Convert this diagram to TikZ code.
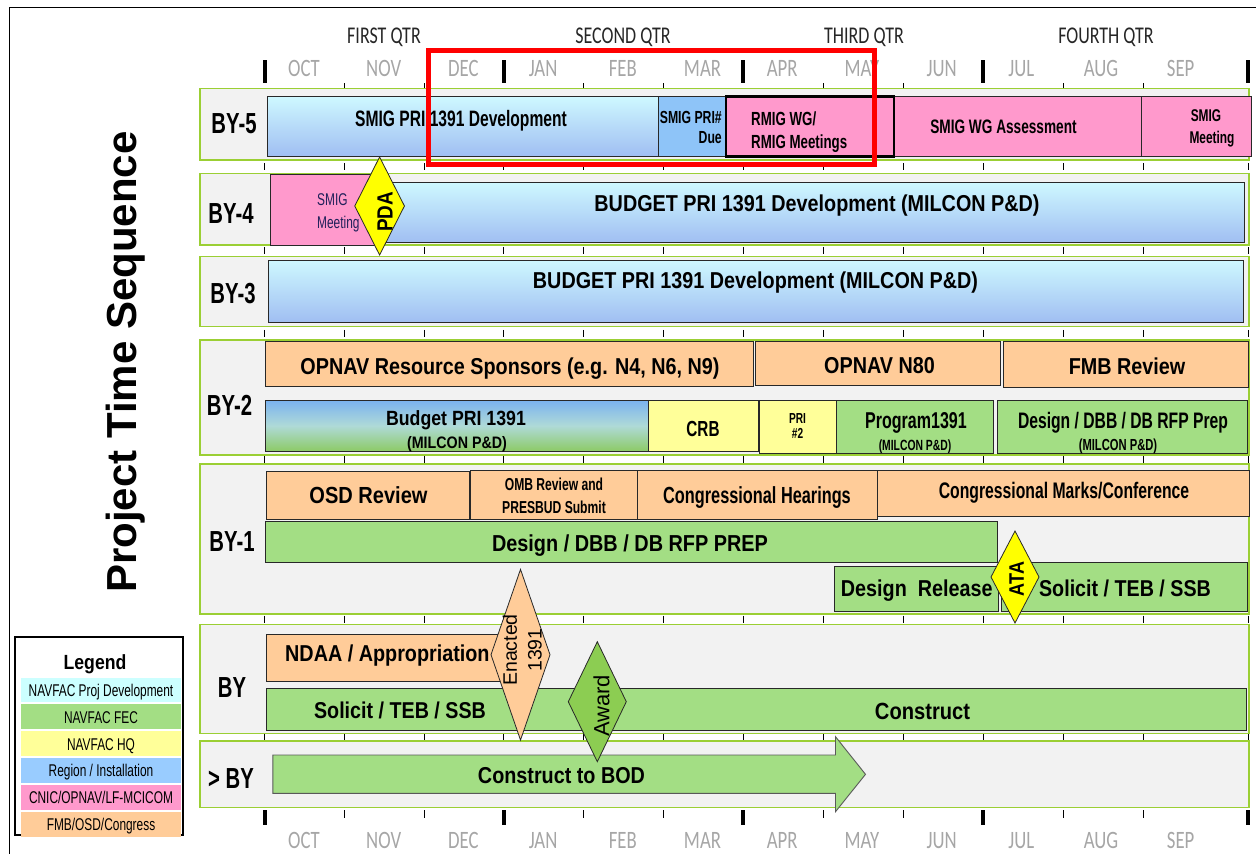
\documentclass[tikz,border=0pt]{standalone}
\usepackage{fontspec}
\setmainfont{Liberation Sans}
\newfontfamily\narA[FakeStretch=0.86]{Liberation Sans}
\newfontfamily\narN[FakeStretch=0.70]{Liberation Sans}
\newfontfamily\calN[FakeStretch=0.75]{Carlito}
\usetikzlibrary{shapes.geometric}

\definecolor{panelfill}{RGB}{242,242,242}
\definecolor{panelline}{RGB}{155,207,52}
\definecolor{cyantop}{RGB}{206,248,255}
\definecolor{bluebot}{RGB}{160,190,242}
\definecolor{regionblue}{RGB}{142,196,248}
\definecolor{pinkc}{RGB}{255,153,204}
\definecolor{orangec}{RGB}{255,204,153}
\definecolor{greenc}{RGB}{163,222,132}
\definecolor{awardgreen}{RGB}{140,205,82}
\definecolor{yellowc}{RGB}{255,255,153}
\definecolor{mileyellow}{RGB}{255,255,0}
\definecolor{legcyan}{RGB}{204,255,255}
\definecolor{legblue}{RGB}{153,204,255}
\definecolor{monthgray}{RGB}{166,166,166}
\definecolor{navytext}{RGB}{32,32,90}
\definecolor{edge}{RGB}{40,40,40}
\definecolor{mixtop}{RGB}{122,178,240}
\definecolor{mixmid}{RGB}{175,218,215}
\definecolor{mixbot}{RGB}{140,202,100}

% box from (x1,y1) to (x2,y2), y measured downwards
\newcommand\boxat[6]{\node[#1, anchor=north west, inner sep=0pt, outer sep=0pt,
  minimum width={#4-#2}, minimum height={#5-#3}] (#6) at (#2,#3) {};}

\begin{document}
\begin{tikzpicture}[x=1pt, y=-1pt,
  panel/.style={draw=panelline, fill=panelfill, line width=1.5pt},
  bar/.style={draw=edge, line width=0.9pt},
  devbar/.style={bar, top color=cyantop, bottom color=bluebot},
  mixbar/.style={bar, top color=mixtop, bottom color=mixbot, middle color=mixmid},
  regbar/.style={bar, fill=regionblue},
  pinkbar/.style={bar, fill=pinkc},
  orbar/.style={bar, fill=orangec},
  grbar/.style={bar, fill=greenc},
  yebar/.style={bar, fill=yellowc},
  milestone/.style={diamond, draw=edge, line width=0.8pt, inner sep=0pt, outer sep=0pt},
  qtr/.style={font=\calN\fontsize{24}{24}\selectfont, text=black!85, inner sep=0pt, anchor=base},
  month/.style={font=\calN\fontsize{25}{25}\selectfont, text=monthgray, inner sep=0pt, anchor=base},
  rowlbl/.style={font=\narN\bfseries\fontsize{29}{29}\selectfont, inner sep=0pt, anchor=base},
  tA/.style={font=\narA\bfseries\fontsize{#1}{#1}\selectfont, inner sep=0pt, anchor=base},
  tN/.style={font=\narN\bfseries\fontsize{#1}{#1}\selectfont, inner sep=0pt, anchor=base},
  tNr/.style={font=\narN\fontsize{#1}{#1}\selectfont, inner sep=0pt, anchor=base},
  tR/.style={font=\fontsize{#1}{#1}\selectfont, inner sep=0pt, rotate=90},
  tRb/.style={font=\narA\bfseries\fontsize{#1}{#1}\selectfont, inner sep=0pt, rotate=90},
]
\useasboundingbox (0,0) rectangle (1256,854);

% frame
\draw[line width=1.5pt] (1256,7.3) -- (9.3,7.3) -- (9.3,854);

% vertical title
\node[font=\bfseries\fontsize{42}{42}\selectfont, rotate=90, inner sep=0pt] (title) at (126,362) {Project Time Sequence};

% quarters and months
\node[qtr] (q1) at (384,43.3) {FIRST QTR};
\node[qtr] (q2) at (623,43.3) {SECOND QTR};
\node[qtr] (q3) at (864,43.3) {THIRD QTR};
\node[qtr] (q4) at (1106,43.3) {FOURTH QTR};
\foreach \m [count=\i from 0] in {OCT,NOV,DEC,JAN,FEB,MAR,APR,MAY,JUN,JUL,AUG,SEP}{
  \node[month] (mt\i) at ({304+79.7*\i},76.7) {\m};
  \node[month] (mb\i) at ({304+79.7*\i},848.3) {\m};
}

% axis ticks
\foreach \b in {264.5,503.5,743,983,1248}{
  \draw[line width=4pt] (\b,60) -- (\b,83);
  \draw[line width=4pt] (\b,810) -- (\b,825);
}
\foreach \b in {344,424,583,663,823,903,1063,1143}{
  \draw[line width=1pt] (\b,83) -- (\b,88);
  \draw[line width=1pt] (\b,810) -- (\b,818);
}
\foreach \g in {166.7,250.8,333.3,459.5,619,737}{
  \foreach \b in {264.5,344,424,503.5,583,663,743,823,903,983,1063,1143,1248}{
    \draw[line width=1pt] (\b,\g-3.5) -- (\b,\g+3.5);
  }
}

% row panels
\boxat{panel}{200}{88.3}{1249}{160}{p5}
\boxat{panel}{200}{173.3}{1249}{245}{p4}
\boxat{panel}{200}{256.7}{1249}{326.7}{p3}
\boxat{panel}{200}{340}{1249}{455}{p2}
\boxat{panel}{200}{464}{1249}{614}{p1}
\boxat{panel}{200}{624.3}{1249}{733.3}{p0}
\boxat{panel}{200}{741}{1249}{807.7}{pn}

\node[rowlbl] (l5) at (234,133.3) {BY-5};
\node[rowlbl] (l4) at (231,223.3) {BY-4};
\node[rowlbl] (l3) at (233,303.3) {BY-3};
\node[rowlbl] (l2) at (229.5,415) {BY-2};
\node[rowlbl] (l1) at (232,551.7) {BY-1};
\node[rowlbl] (l0) at (232,697) {BY};
\node[rowlbl] (ln) at (231,788) {> BY};

% BY-5
\boxat{devbar}{267.6}{96.7}{658}{156}{smigdev}
\boxat{regbar}{658}{96.7}{726}{156}{pridue}
\boxat{pinkbar}{894}{96.7}{1141}{156.7}{wga}
\boxat{pinkbar}{1141}{96.7}{1251}{156.7}{smigmeetA}
\boxat{pinkbar, draw=black, line width=2.5pt}{726}{96.7}{894}{156.7}{rmig}
\node[tN=22.3] (smigdevT) at (461,126) {SMIG PRI 1391 Development};
\node[tN=17.5, anchor=base east] (prid1) at (722,123.3) {SMIG PRI\#};
\node[tN=17.5, anchor=base east] (prid2) at (722,143.3) {Due};
\node[tN=19, anchor=base west] (rmig1) at (751,125) {RMIG WG/};
\node[tN=19, anchor=base west] (rmig2) at (751,148.3) {RMIG Meetings};
\node[tN=19.5] (wgaT) at (1003.5,133.3) {SMIG WG Assessment};
\node[tN=17] (smA1) at (1206,121.7) {SMIG};
\node[tN=17] (smA2) at (1212,143.3) {Meeting};

% BY-4
\boxat{pinkbar}{270}{174}{380}{245}{smigmeetB}
\boxat{devbar}{380}{182.7}{1244}{242.7}{budget4}
\node[tNr=17, anchor=base west, text=navytext] (smB1) at (317,205) {SMIG};
\node[tNr=17, anchor=base west, text=navytext] (smB2) at (317,228.3) {Meeting};
\node[tA=23] (budget4T) at (817,211.7) {BUDGET PRI 1391 Development (MILCON P\&D)};

% BY-3
\boxat{devbar}{268.5}{260}{1243}{322.3}{budget3}
\node[tA=23] (budget3T) at (755.5,288.3) {BUDGET PRI 1391 Development (MILCON P\&D)};

% BY-2
\boxat{orbar}{265}{341.7}{753}{386}{opnavrs}
\boxat{orbar}{755.5}{341}{1000.6}{385}{opnav80}
\boxat{orbar}{1003}{341.7}{1248.6}{387.3}{fmb}
\boxat{mixbar}{265}{400}{648.6}{451.7}{budpri}
\boxat{yebar}{648.6}{400}{758}{451.7}{crb}
\boxat{yebar}{759.7}{400}{836.6}{453.3}{pritwo}
\boxat{grbar}{836.6}{400}{993}{453.3}{prog}
\boxat{grbar}{997.6}{400}{1247.6}{453.3}{dsgprep}
\node[tA=23] (opnavrsT) at (510,374.3) {OPNAV Resource Sponsors (e.g. N4, N6, N9)};
\node[tA=23] (opnav80T) at (879.5,373.3) {OPNAV N80};
\node[tA=23] (fmbT) at (1127,374.3) {FMB Review};
\node[tA=20.6] (budpriT) at (456,425) {Budget PRI 1391};
\node[tA=16.6] (budpriS) at (457,448.3) {(MILCON P\&D)};
\node[tN=21.8] (crbT) at (703,436.7) {CRB};
\node[tN=14.5] (pritwo1) at (797.6,423.3) {PRI};
\node[tN=14.5] (pritwo2) at (797.6,438.3) {\#2};
\node[tN=22.9] (progT) at (916,428.3) {Program1391};
\node[tN=14.8] (progS) at (915,450) {(MILCON P\&D)};
\node[tN=22.4] (dsgprepT) at (1123,428.3) {Design / DBB / DB RFP Prep};
\node[tN=16] (dsgprepS) at (1118,450) {(MILCON P\&D)};

% BY-1
\boxat{orbar}{266}{471.7}{469}{519.3}{osd}
\boxat{orbar}{470}{470}{637.6}{519.3}{omb}
\boxat{orbar}{637.6}{470}{877}{519.3}{conghear}
\boxat{orbar}{877}{470}{1249}{516.7}{congmarks}
\boxat{grbar}{265}{521.7}{997}{562.7}{dsgPREP}
\boxat{grbar}{834}{566}{998}{611.7}{dsgrel}
\boxat{grbar}{1001}{562.7}{1247}{611.7}{solA}
\node[tA=23.3] (osdT) at (368.5,503.3) {OSD Review};
\node[tN=17.3] (omb1) at (554,490) {OMB Review and};
\node[tN=17.3] (omb2) at (554,513.3) {PRESBUD Submit};
\node[tN=23.3] (conghearT) at (757,503.3) {Congressional Hearings};
\node[tN=22.5] (congmarksT) at (1064,498.3) {Congressional Marks/Conference};
\node[tA=23.1] (dsgPREPT) at (630,551.7) {Design / DBB / DB RFP PREP};
\node[tA=23, anchor=base west] (dsgrelT) at (840.7,596.7) {Design~ Release};
\node[tA=22.9] (solAT) at (1125,596.7) {Solicit / TEB / SSB};

% BY
\boxat{orbar}{266.5}{634.3}{505}{681.7}{ndaa}
\boxat{grbar}{266.5}{688}{597}{730.5}{solB}
\boxat{grbar}{597}{688}{1246.6}{730.5}{construct}
\node[tA=23, anchor=base west] (ndaaT) at (285,661.7) {NDAA / Appropriation};
\node[tA=22.9] (solBT) at (400,718.3) {Solicit / TEB / SSB};
\node[tA=23.4] (constructT) at (922.5,719) {Construct};

% > BY
\draw[bar, draw=black!65, fill=greenc] (272.8,755) -- (835.5,755) -- (835.5,736.7)
  -- (865.5,774.3) -- (835.5,811.7) -- (835.5,793.3) -- (272.8,793.3) -- cycle;
\node[tA=23] (bodT) at (561.5,783.3) {Construct to BOD};

% milestones
\node[milestone, fill=mileyellow, minimum width=49.7, minimum height=98] (pda) at (379.6,206) {};
\node[tRb=22] (pdaT) at (385,211.7) {PDA};
\node[milestone, fill=mileyellow, minimum width=48, minimum height=92] (ata) at (1015,577) {};
\node[tRb=21] (ataT) at (1016.6,579) {ATA};
\node[milestone, fill=orangec, minimum width=59, minimum height=170.7] (enacted) at (520.5,654.7) {};
\node[tR=19.5] (enacted1) at (510,650) {Enacted};
\node[tR=19.5] (enacted2) at (535,650) {1391};
\node[milestone, fill=awardgreen, minimum width=58, minimum height=120] (award) at (597.3,701.7) {};
\node[tR=22] (awardT) at (601.5,706) {Award};

% highlight
\boxat{draw=red, line width=5pt}{428.5}{50.5}{874.5}{164.5}{focus}

% legend
\boxat{draw=black, line width=1.2pt, fill=white}{15}{637}{183}{835}{legbox}
\boxat{fill=legcyan}{21}{678.3}{181}{701.7}{lg1}
\boxat{fill=greenc}{21}{704}{181}{729.3}{lg2}
\boxat{fill=yellowc}{21}{731}{181}{756}{lg3}
\boxat{fill=legblue}{21}{757.7}{181}{783.3}{lg4}
\boxat{fill=pinkc}{21}{785}{181}{810}{lg5}
\boxat{fill=orangec}{21}{811.7}{181}{836.7}{lg6}
\node[tA=20.5] (legT) at (95,669.3) {Legend};
\node[tNr=17] (lg1T) at (101,696.7) {NAVFAC Proj Development};
\node[tNr=17] (lg2T) at (101,723.3) {NAVFAC FEC};
\node[tNr=17] (lg3T) at (101,750) {NAVFAC HQ};
\node[tNr=17] (lg4T) at (101,776.7) {Region / Installation};
\node[tNr=17] (lg5T) at (101,803.3) {CNIC/OPNAV/LF-MCICOM};
\node[tNr=17] (lg6T) at (101,830) {FMB/OSD/Congress};
\end{tikzpicture}
\end{document}
